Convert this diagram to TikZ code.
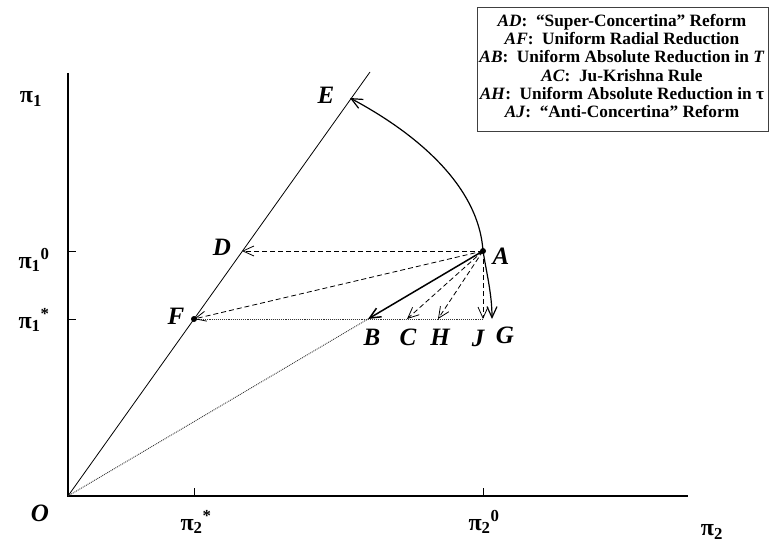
\documentclass[tikz,border=0pt]{standalone}
\usepackage{fontspec}
\setmainfont{Liberation Serif}
\usetikzlibrary{arrows.meta}

\begin{document}
\begin{tikzpicture}[x=1pt, y=-1pt,
    ptlabel/.style={font=\fontsize{25}{29}\selectfont\bfseries\itshape},
    axlabel/.style={font=\fontsize{24}{28}\selectfont\bfseries},
    barb/.style={-{Straight Barb[length=11pt,width=10pt]}},
    reform/.style={barb, dashed, dash pattern=on 5pt off 3pt, line width=0.8pt},
    guide/.style={densely dotted, line width=0.9pt, black!80},
    legend/.style={inner sep=0pt, align=center, font=\fontsize{17.3}{18.2}\selectfont\bfseries},
    keybox/.style={draw=black!75, line width=1pt}
]
\useasboundingbox (0,0) rectangle (772,543);

% Points (pixel grid, y downwards)
\coordinate (O) at (68,496);
\coordinate (Y) at (68,73);
\coordinate (X) at (688,496);
\coordinate (T) at (370,72);
\coordinate (A) at (483,251);
\coordinate (D) at (242,251);
\coordinate (E) at (350,98);
\coordinate (F) at (194,319);
\coordinate (B) at (368,319);
\coordinate (C) at (407,319);
\coordinate (H) at (438,319);
\coordinate (J) at (483,319);
\coordinate (G) at (492,319);

% Axes, ray and ticks
\draw[line width=1.1pt] (Y) -- (O) -- (X);
\draw[line width=0.8pt] (O) -- (T);
\draw[line width=0.8pt] (O |- A) -- ++(8,0);
\draw[line width=0.8pt] (O |- F) -- ++(8,0);
\draw[line width=0.8pt] (F |- O) -- ++(0,-8);
\draw[line width=0.8pt] (A |- O) -- ++(0,-8);

% Dotted guides
\draw[guide] (O) -- (B);
\draw[guide] (J) -- (F);

% Reforms from A
\draw[reform] (A) -- (D);
\draw[reform] (A) -- (F);
\draw[reform] (A) -- (C);
\draw[reform] (A) -- (H);
\draw[reform] (A) -- (J);
\draw[barb, line width=1.5pt] (A) -- (B);
\draw[barb, line width=1.2pt] (A) .. controls (478,175) and (395,122) .. (E);
\draw[barb, line width=1.2pt] (A) .. controls (487,275) and (492,295) .. (G);
\fill (A) circle (3pt);
\fill (F) circle (3pt);

% Point labels
\node[ptlabel] (lA) at (501,256) {A};
\node[ptlabel] (lB) at (372,337) {B};
\node[ptlabel] (lC) at (408,337) {C};
\node[ptlabel] (lH) at (440,337) {H};
\node[ptlabel] (lJ) at (478,338) {J};
\node[ptlabel] (lG) at (505,335) {G};
\node[ptlabel] (lD) at (222,247) {D};
\node[ptlabel] (lE) at (326,95) {E};
\node[ptlabel] (lF) at (176,316) {F};
\node[ptlabel] (lO) at (40,513) {O};

% Axis labels
\node[axlabel] (lpi1) at (31,99) {π\textsubscript{1}};
\node[axlabel] (lpi10) at (34,260) {π\textsubscript{1}\textsuperscript{0}};
\node[axlabel] (lpi1s) at (34,320) {π\textsubscript{1}\textsuperscript{*}};
\node[axlabel] (lpi2s) at (196,522) {π\textsubscript{2}\textsuperscript{*}};
\node[axlabel] (lpi20) at (484,522) {π\textsubscript{2}\textsuperscript{0}};
\node[axlabel] (lpi2) at (712,532) {π\textsubscript{2}};

% Legend
\draw[keybox] (477,8) rectangle (768,132);
\node[legend] (key) at (622,66) {\textit{AD}:~ “Super-Concertina” Reform\\
\textit{AF}:~ Uniform Radial Reduction\\
\textit{AB}:~ Uniform Absolute Reduction in \textit{T}\\
\textit{AC}:~ Ju-Krishna Rule\\
\textit{AH}:~ Uniform Absolute Reduction in τ\\
\textit{AJ}:~ “Anti-Concertina” Reform};
\end{tikzpicture}
\end{document}
